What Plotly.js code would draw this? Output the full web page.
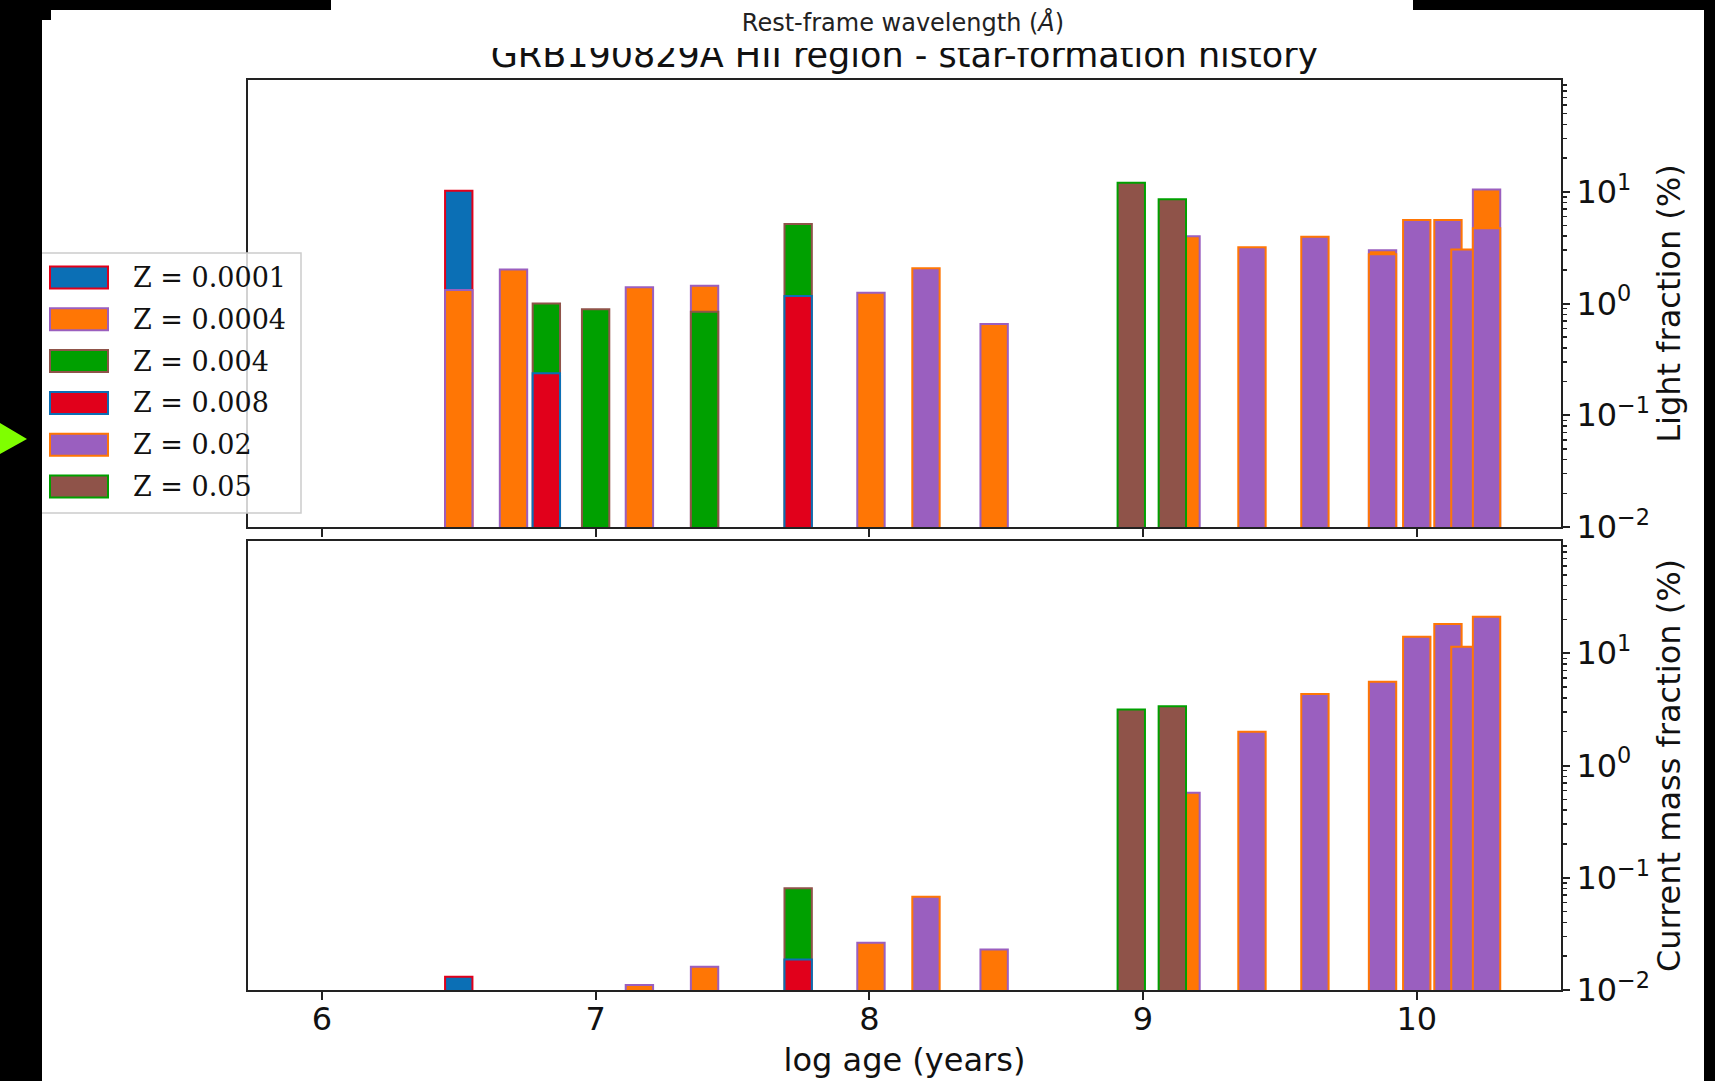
<!DOCTYPE html>
<html>
<head>
<meta charset="utf-8">
<script src="https://cdn.plot.ly/plotly-3.0.1.min.js"></script>
<style>
html,body{margin:0;padding:0;background:#fff;}
#wrap{position:relative;width:1715px;height:1081px;overflow:hidden;background:#fff;}
.ov{position:absolute;}
</style>
</head>
<body>
<div id="wrap">
  <div id="chart" style="position:absolute;left:0;top:0;width:1715px;height:1081px;"></div>
  <!-- upper figure strip overlapping the title -->
  <div class="ov" style="left:0;top:0;width:1715px;height:48px;background:#fff;"></div>
  <div class="ov" style="left:0;top:9px;width:1806px;text-align:center;font-family:'DejaVu Sans';font-size:24px;line-height:28px;color:#222;">Rest-frame wavelength (<i>Å</i>)</div>
  <!-- screenshot black borders -->
  <div class="ov" style="left:0;top:0;width:331px;height:10px;background:#000;"></div>
  <div class="ov" style="left:0;top:10px;width:51px;height:10px;background:#000;"></div>
  <div class="ov" style="left:0;top:20px;width:42px;height:1061px;background:#000;"></div>
  <div class="ov" style="left:1413px;top:0;width:302px;height:10px;background:#000;"></div>
  <div class="ov" style="left:1704px;top:0;width:11px;height:1081px;background:#000;"></div>
  <svg class="ov" style="left:0;top:0;" width="40" height="1081"><polygon points="0,423 27,439 0,454" fill="#7fff00"/></svg>
</div>
<script>
// ---------------- data ----------------
const seriesNames = ['Z = 0.0001', 'Z = 0.0004', 'Z = 0.004', 'Z = 0.008', 'Z = 0.02', 'Z = 0.05'];
const fillColors  = ['#0b6fb5', '#ff7605', '#00a000', '#e1001b', '#9a5fbf', '#8f5349'];
const edgeColors  = ['#e1001b', '#9a5fbf', '#8f5349', '#0b6fb5', '#ff7605', '#00a000'];

// light fraction (%) per metallicity, at log age (years)
const lightAge_Z0001 = [6.5];
const light_Z0001    = [10.2];
const lightAge_Z0004 = [6.5, 6.7, 7.16, 7.398, 8.006, 8.456, 9.157, 9.875, 10.255];
const light_Z0004    = [1.32, 2.02, 1.40, 1.44, 1.25, 0.656, 4.0, 3.0, 10.5];
const lightAge_Z004  = [6.82, 7.0, 7.398, 7.74];
const light_Z004     = [1.0, 0.887, 0.845, 5.14];
const lightAge_Z008  = [6.82, 7.74];
const light_Z008     = [0.237, 1.17];
const lightAge_Z02   = [8.207, 9.398, 9.628, 9.875, 10.0, 10.114, 10.176, 10.255];
const light_Z02      = [2.07, 3.18, 3.96, 2.76, 5.58, 5.58, 3.05, 4.71];
const lightAge_Z05   = [8.957, 9.107];
const light_Z05      = [12.05, 8.57];

// current mass fraction (%) per metallicity
const massAge_Z0001 = [6.5];
const mass_Z0001    = [0.0131];
const massAge_Z0004 = [7.16, 7.398, 8.006, 8.456, 9.157];
const mass_Z0004    = [0.0111, 0.0161, 0.0264, 0.023, 0.571];
const massAge_Z004  = [7.74];
const mass_Z004     = [0.0805];
const massAge_Z008  = [7.74];
const mass_Z008     = [0.0187];
const massAge_Z02   = [8.207, 9.398, 9.628, 9.875, 10.0, 10.114, 10.176, 10.255];
const mass_Z02      = [0.0678, 2.0, 4.33, 5.56, 14.0, 18.2, 11.4, 21.1];
const massAge_Z05   = [8.957, 9.107];
const mass_Z05      = [3.16, 3.38];

const xTickVals = [6, 7, 8, 9, 10];
const yTickVals = [0.01, 0.1, 1, 10];
const yTickText = ['10<sup>−2</sup>', '10<sup>−1</sup>', '10<sup>0</sup>', '10<sup>1</sup>'];

// ---------------- build ----------------
const lightAges = [lightAge_Z0001, lightAge_Z0004, lightAge_Z004, lightAge_Z008, lightAge_Z02, lightAge_Z05];
const lightVals = [light_Z0001, light_Z0004, light_Z004, light_Z008, light_Z02, light_Z05];
const massAges  = [massAge_Z0001, massAge_Z0004, massAge_Z004, massAge_Z008, massAge_Z02, massAge_Z05];
const massVals  = [mass_Z0001, mass_Z0004, mass_Z004, mass_Z008, mass_Z02, mass_Z05];

const BAR_W = 0.1;
const traces = [];
for (let i = 0; i < seriesNames.length; i++) {
  traces.push({type: 'bar', name: seriesNames[i], x: lightAges[i], y: lightVals[i], width: BAR_W,
    xaxis: 'x', yaxis: 'y', showlegend: false, hoverinfo: 'skip',
    marker: {color: fillColors[i], line: {color: edgeColors[i], width: 2}}});
}
for (let i = 0; i < seriesNames.length; i++) {
  traces.push({type: 'bar', name: seriesNames[i], x: massAges[i], y: massVals[i], width: BAR_W,
    xaxis: 'x2', yaxis: 'y2', showlegend: false, hoverinfo: 'skip',
    marker: {color: fillColors[i], line: {color: edgeColors[i], width: 2}}});
}

// figure geometry (pixels)
const W = 1715, H = 1081;
const PL = 248, PR = 1561, PT = 80, PB = 990;
const TOP_BOTTOM = 527, BOT_TOP = 541;
const px = v => (v - PL) / (PR - PL);
const py = v => (PB - v) / (PB - PT);

const minorVals = [];
for (let d = -2; d <= 1; d++) for (let m = 2; m <= 9; m++) minorVals.push(m * Math.pow(10, d));

const AX = '#222';
const xCommon = {range: [5.73, 10.527], tickvals: xTickVals, ticks: 'outside', ticklen: 8, tickwidth: 2,
  tickcolor: AX, showline: true, linecolor: AX, linewidth: 2, mirror: true, showgrid: false, zeroline: false,
  tickfont: {size: 32, color: '#111'}};
const yCommon = {type: 'log', range: [-2, 2], side: 'right', tickmode: 'array', tickvals: yTickVals, ticktext: yTickText,
  ticks: 'outside', ticklen: 7, tickwidth: 2, tickcolor: AX, tickfont: {size: 32, color: '#111'},
  showline: true, linecolor: AX, linewidth: 2, mirror: true, showgrid: false, zeroline: false,
  minor: {tickvals: minorVals, ticks: 'outside', ticklen: 4, tickwidth: 1.5, tickcolor: AX, showgrid: false}};

// manual legend (patches sized like the original)
const shapes = [];
const annotations = [];
shapes.push({type: 'rect', xref: 'paper', yref: 'paper', layer: 'above',
  x0: px(30), x1: px(301), y0: py(513), y1: py(253),
  fillcolor: 'rgba(255,255,255,0.8)', line: {color: '#cccccc', width: 1.5}});
for (let i = 0; i < seriesNames.length; i++) {
  const cy = 277.5 + i * 41.8;
  shapes.push({type: 'rect', xref: 'paper', yref: 'paper', layer: 'above',
    x0: px(50), x1: px(108), y0: py(cy + 11), y1: py(cy - 11),
    fillcolor: fillColors[i], line: {color: edgeColors[i], width: 2}});
  annotations.push({xref: 'paper', yref: 'paper', x: px(131), y: py(cy), xanchor: 'left', yanchor: 'middle',
    text: seriesNames[i], showarrow: false, font: {family: 'DejaVu Serif', size: 27, color: '#111'}});
}

const layout = {
  width: W, height: H,
  margin: {l: PL, r: W - PR, t: PT, b: H - PB, pad: 0},
  paper_bgcolor: '#fff', plot_bgcolor: '#fff',
  font: {family: 'DejaVu Sans', color: '#111'},
  barmode: 'overlay',
  showlegend: false,
  title: {text: 'GRB190829A HII region - star-formation history', font: {size: 35, color: '#111'},
    xref: 'paper', x: 0.5, xanchor: 'center', yref: 'container', y: 1 - 55 / H, yanchor: 'middle'},
  xaxis: Object.assign({}, xCommon, {anchor: 'y', showticklabels: false}),
  xaxis2: Object.assign({}, xCommon, {anchor: 'y2', ticklabelstandoff: -8,
    title: {text: 'log age (years)', font: {size: 32, color: '#111'}, standoff: 11}}),
  yaxis: Object.assign({}, yCommon, {anchor: 'x', domain: [py(TOP_BOTTOM), 1],
    title: {text: 'Light fraction (%)', font: {size: 32, color: '#111'}, standoff: 6}}),
  yaxis2: Object.assign({}, yCommon, {anchor: 'x2', domain: [0, py(BOT_TOP)],
    title: {text: 'Current mass fraction (%)', font: {size: 32, color: '#111'}, standoff: 6}}),
  shapes: shapes,
  annotations: annotations
};

Plotly.newPlot('chart', traces, layout, {staticPlot: true, displayModeBar: false});
</script>
</body>
</html>
